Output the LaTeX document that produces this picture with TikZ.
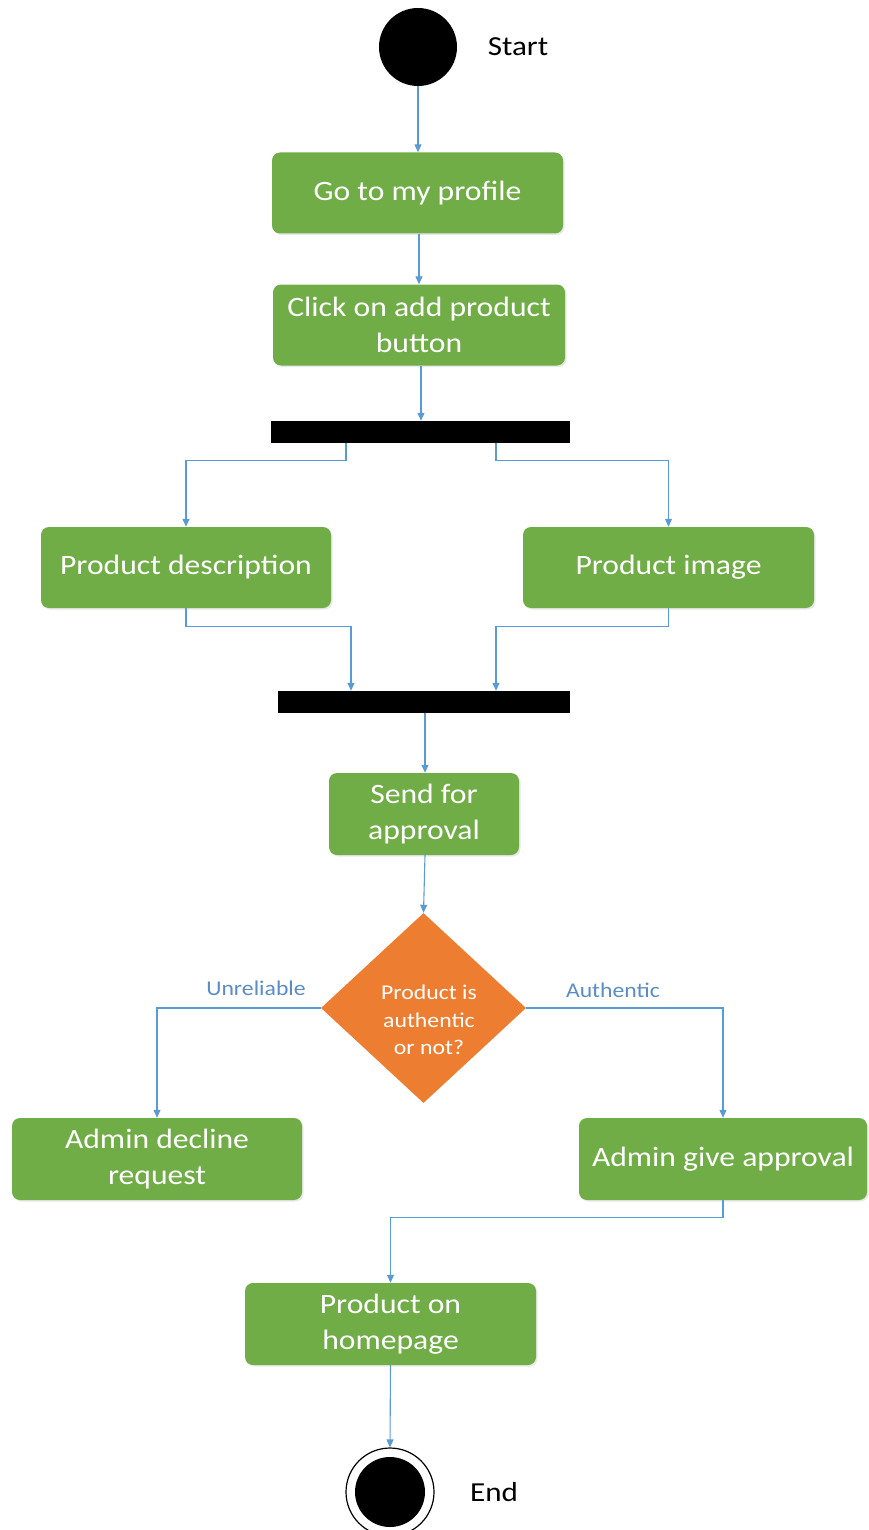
\documentclass[tikz,border=0pt]{standalone}
\usepackage{fontspec}
\setmainfont{Carlito}[FakeStretch=1.13]
\usetikzlibrary{arrows.meta,shapes.geometric,calc,shadows}
\definecolor{actgreen}{HTML}{70AD47}
\definecolor{decorange}{HTML}{ED7D31}
\definecolor{flowblue}{HTML}{5B9BD5}
\definecolor{guardblue}{HTML}{5B8DC4}
\tikzset{
  activity/.style={rectangle, rounded corners=8pt, fill=actgreen, text=white,
    align=center, inner sep=0pt, font=\fontsize{28}{36}\selectfont,
    drop shadow={opacity=0.18, shadow xshift=1.5pt, shadow yshift=-1.5pt}},
  syncbar/.style={rectangle, fill=black, inner sep=0pt},
  decision/.style={diamond, fill=decorange, inner sep=0pt},
  flow/.style={draw=flowblue, line width=1.1pt,
    -{Triangle[length=8pt,width=7pt]}},
  guard/.style={text=guardblue, font=\fontsize{21}{24}\selectfont},
  caption/.style={font=\fontsize{27.5}{30}\selectfont}
}
\begin{document}
\begin{tikzpicture}[x=1pt,y=-1pt]
  \useasboundingbox (0,0) rectangle (868,1530);

  % initial state
  \node[circle, fill=black, minimum size=78pt, inner sep=0pt] (start) at (418,47) {};
  \node[caption] (startlbl) at (518,47) {Start};

  % activities
  \node[activity, minimum width=291pt, minimum height=81pt] (profile) at (417.5,193) {Go to my profile};
  \node[activity, minimum width=292pt, minimum height=81pt] (click) at (419,325) {Click on add product\\button};
  \node[syncbar, minimum width=299pt, minimum height=22pt] (fork) at (420.5,432) {};
  \node[activity, minimum width=290pt, minimum height=81pt] (desc) at (186,567.5) {Product description};
  \node[activity, minimum width=291pt, minimum height=81pt] (image) at (668.5,567.5) {Product image};
  \node[syncbar, minimum width=292pt, minimum height=22pt] (join) at (424,702) {};
  \node[activity, minimum width=190pt, minimum height=82pt] (send) at (424,814) {Send for\\approval};

  % decision
  \node[decision, minimum width=205pt, minimum height=190pt] (check) at (423.5,1008) {};
  \node[text=white, align=center, font=\fontsize{21}{27.5}\selectfont] (checktxt) at (429,1020) {Product is\\authentic\\or not?};

  \node[activity, minimum width=290pt, minimum height=82pt] (decline) at (157,1159) {Admin decline\\request};
  \node[activity, minimum width=288pt, minimum height=82pt] (approve) at (723,1159) {Admin give approval};
  \node[activity, minimum width=291pt, minimum height=82pt] (home) at (390.5,1324) {Product on\\homepage};

  % final state
  \node[circle, draw=black, line width=1.2pt, minimum size=88pt, inner sep=0pt] (endring) at (390,1492) {};
  \node[circle, fill=black, minimum size=70pt, inner sep=0pt] (end) at (390,1492) {};
  \node[caption] (endlbl) at (494,1492) {End};

  % guard labels
  \node[guard] (unrel) at (256,988) {Unreliable};
  \node[guard] (auth) at (613,990) {Authentic};

  % control flow
  \draw[flow] (start.south) -- (start.south |- profile.north);
  \draw[flow] ([xshift=1.5pt]profile.south) -- ([xshift=1.5pt]profile.south |- click.north);
  \draw[flow] ([xshift=2pt]click.south) -- ([xshift=2pt]click.south |- fork.north);
  \draw[flow] ([xshift=-74.5pt]fork.south) -- ++(0,17) -| (desc.north);
  \draw[flow] ([xshift=75.5pt]fork.south) -- ++(0,17) -| (image.north);
  \draw[flow] (desc.south) -- ++(0,18) -| ([xshift=-73pt]join.north);
  \draw[flow] (image.south) -- ++(0,18) -| ([xshift=72pt]join.north);
  \draw[flow] ([xshift=1pt]join.south) -- ([xshift=1pt]join.south |- send.north);
  \draw[flow] ([xshift=1pt]send.south) -- (check.north);
  \draw[flow] (check.west) -| (decline.north);
  \draw[flow] (check.east) -| (approve.north);
  \draw[flow] (approve.south) -- ++(0,17) -| (home.north);
  \draw[flow] (home.south) -- (endring.north);
\end{tikzpicture}
\end{document}
